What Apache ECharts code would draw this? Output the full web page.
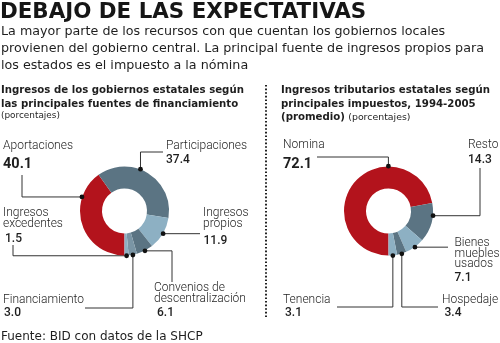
<!DOCTYPE html>
<html>
<head>
<meta charset="utf-8">
<script src="https://cdn.jsdelivr.net/npm/echarts@6/dist/echarts.min.js"></script>
<style>
  html, body { margin: 0; padding: 0; background: #ffffff; }
  #chart { width: 500px; height: 343px; }
</style>
</head>
<body>
<div id="chart"></div>
<script>
// Ingresos de los gobiernos estatales (porcentajes)
const leftCategories = ['Aportaciones', 'Participaciones', 'Ingresos propios',
  'Convenios de descentralización', 'Financiamiento', 'Ingresos excedentes'];
const leftValues = [40.1, 37.4, 11.9, 6.1, 3.0, 1.5];

// Ingresos tributarios estatales, 1994-2005 (promedio, porcentajes)
const rightCategories = ['Nomina', 'Resto', 'Bienes muebles usados', 'Hospedaje', 'Tenencia'];
const rightValues = [72.1, 14.3, 7.1, 3.4, 3.1];

// Text blocks
const titleText = 'DEBAJO DE LAS EXPECTATIVAS';
const introLines = [
  'La mayor parte de los recursos con que cuentan los gobiernos locales',
  'provienen del gobierno central. La principal fuente de ingresos propios para',
  'los estados es el impuesto a la nómina'
];
const leftHeader = ['Ingresos de los gobiernos estatales según', 'las principales fuentes de financiamiento'];
const rightHeader = ['Ingresos tributarios estatales según', 'principales impuestos, 1994-2005'];
const sourceText = 'Fuente: BID con datos de la SHCP';

// ---- styling / layout ----
const RED = '#b3131c', DARK = '#5b7483', LIGHT = '#8db0c3', MID = '#7a95a5';
const leftColors = [RED, DARK, LIGHT, DARK, MID, LIGHT];
const rightColors = [RED, DARK, LIGHT, DARK, LIGHT];
const FONT = 'Roboto, "Liberation Sans", sans-serif';
const WIDE = '"DejaVu Sans", Verdana, sans-serif';
const INK = '#1e1e1e';
const LINE = '#333333';

// Label placement for each slice: text lines, anchor position inside the slice
// (fraction of its angular span) and the elbow route of the leader line.
const leftLabels = [
  { lines: ['Aportaciones'], x: 3, y: 149, vx: 3, vy: 168.5, big: true, frac: 0.75, path: [['h', 22], ['v', 175]] },
  { lines: ['Participaciones'], x: 166, y: 149, vx: 166, vy: 163.5, frac: 0.42, path: [['v', 152], ['h', 163]] },
  { lines: ['Ingresos', 'propios'], x: 203, y: 216.5, vx: 203.5, vy: 244.5, frac: 0.5, path: [['h', 200]] },
  { lines: ['Convenios de', 'descentralización'], x: 154, y: 291.5, vx: 157, vy: 316, frac: 0.5, path: [['h', 172], ['v', 282]] },
  { lines: ['Financiamiento'], x: 3, y: 303.5, vx: 4, vy: 316, frac: 0.5, path: [['v', 308], ['h', 85]] },
  { lines: ['Ingresos', 'excedentes'], x: 3, y: 216.5, vx: 5, vy: 242.5, frac: 0.5, path: [['h', 13], ['v', 245]] }
];
const rightLabels = [
  { lines: ['Nomina'], x: 283, y: 148.5, vx: 283, vy: 168.5, big: true, frac: 0.693, path: [['v', 157], ['h', 317]] },
  { lines: ['Resto'], x: 468, y: 148.5, vx: 468, vy: 163.5, frac: 0.32, path: [['h', 480], ['v', 168]] },
  { lines: ['Bienes', 'muebles', 'usados'], x: 454.5, y: 246.5, vx: 454.5, vy: 281.5, frac: 0.5, path: [['h', 448]] },
  { lines: ['Hospedaje'], x: 442, y: 303.5, vx: 444.5, vy: 316, frac: 0.5, path: [['v', 307], ['h', 438]] },
  { lines: ['Tenencia'], x: 283, y: 303.5, vx: 285, vy: 316, frac: 0.5, path: [['v', 307], ['h', 337]] }
];

const chart = echarts.init(document.getElementById('chart'), null, { renderer: 'canvas' });

function donut(names, values, colors, center) {
  return {
    type: 'pie',
    center: center,
    radius: [22.5, 44.5],
    startAngle: 270,
    clockwise: true,
    avoidLabelOverlap: false,
    silent: true,
    label: { show: false },
    labelLine: { show: false },
    itemStyle: { borderWidth: 0 },
    data: names.map((n, i) => ({ name: n, value: values[i], itemStyle: { color: colors[i] } }))
  };
}

chart.setOption({
  animation: false,
  series: [
    donut(leftCategories, leftValues, leftColors, [124.5, 211]),
    donut(rightCategories, rightValues, rightColors, [388.5, 211])
  ]
});

// baseline-positioned text helper
function txt(x, baseline, str, size, weight, color, family) {
  return {
    type: 'text', silent: true,
    style: {
      x: x, y: baseline, text: str,
      font: (weight || 'normal') + ' ' + size + 'px ' + (family || FONT),
      fill: color || INK,
      textAlign: 'left', textVerticalAlign: 'bottom', verticalAlign: 'bottom'
    }
  };
}
// move from alphabetic baseline to the bottom of the line box
function bl(baseline, size) { return baseline + size * 0.22; }

const els = [];
els.push(txt(0, bl(18.4, 21.4), titleText, 21.4, 'bold', '#161616', WIDE));
introLines.forEach((l, i) => els.push(txt(1, bl(35.9 + i * 16.6, 12.7), l, 12.7, 'normal', INK, WIDE)));
leftHeader.forEach((l, i) => els.push(txt(1, bl(93.3 + i * 14, 10.2), l, 10.2, 'bold', INK, WIDE)));
els.push(txt(1, bl(118.5, 8.9), '(porcentajes)', 8.9, 'normal', INK, WIDE));
rightHeader.forEach((l, i) => els.push(txt(281, bl(93.3 + i * 14, 10.2), l, 10.2, 'bold', INK, WIDE)));
els.push({
  type: 'text', silent: true,
  style: {
    x: 281, y: bl(121.3, 10.2),
    text: '{b|(promedio)} {n|(porcentajes)}',
    textVerticalAlign: 'bottom', verticalAlign: 'bottom',
    rich: {
      b: { font: 'bold 10.2px ' + WIDE, fill: INK },
      n: { font: 'normal 9.4px ' + WIDE, fill: INK }
    }
  }
});
els.push(txt(1, bl(340, 12), sourceText, 12, 'normal', INK, WIDE));

// dotted separator between the two panels
els.push({
  type: 'line', silent: true,
  shape: { x1: 266, y1: 85, x2: 266, y2: 317 },
  style: { stroke: '#222', lineWidth: 2, lineDash: [1.6, 2] }
});

function annotate(seriesIndex, values, labels) {
  const data = chart.getModel().getSeriesByIndex(seriesIndex).getData();
  labels.forEach((lab, i) => {
    const lay = data.getItemLayout(i);
    const a = lay.startAngle + (lay.endAngle - lay.startAngle) * lab.frac;
    const r = lay.r + 0.3;
    const p0 = [lay.cx + r * Math.cos(a), lay.cy + r * Math.sin(a)];
    const pts = [p0];
    lab.path.forEach(([dir, v]) => {
      const last = pts[pts.length - 1];
      pts.push(dir === 'h' ? [v, last[1]] : [last[0], v]);
    });
    els.push({
      type: 'polyline', silent: true,
      shape: { points: pts },
      style: { stroke: LINE, lineWidth: 1, fill: null }
    });
    els.push({
      type: 'circle', silent: true, z: 10,
      shape: { cx: p0[0], cy: p0[1], r: 2.4 },
      style: { fill: '#111' }
    });
    lab.lines.forEach((l, k) => els.push(txt(lab.x, bl(lab.y + k * 10.6, 12), l, 12, '300')));
    const valStr = values[i].toFixed(1);
    if (lab.big) els.push(txt(lab.vx, bl(lab.vy, 14.5), valStr, 14.5, 'bold'));
    else els.push(txt(lab.vx, bl(lab.vy, 12), valStr, 12, '500'));
  });
}
annotate(0, leftValues, leftLabels);
annotate(1, rightValues, rightLabels);

chart.setOption({ graphic: { elements: els } });
</script>
</body>
</html>
